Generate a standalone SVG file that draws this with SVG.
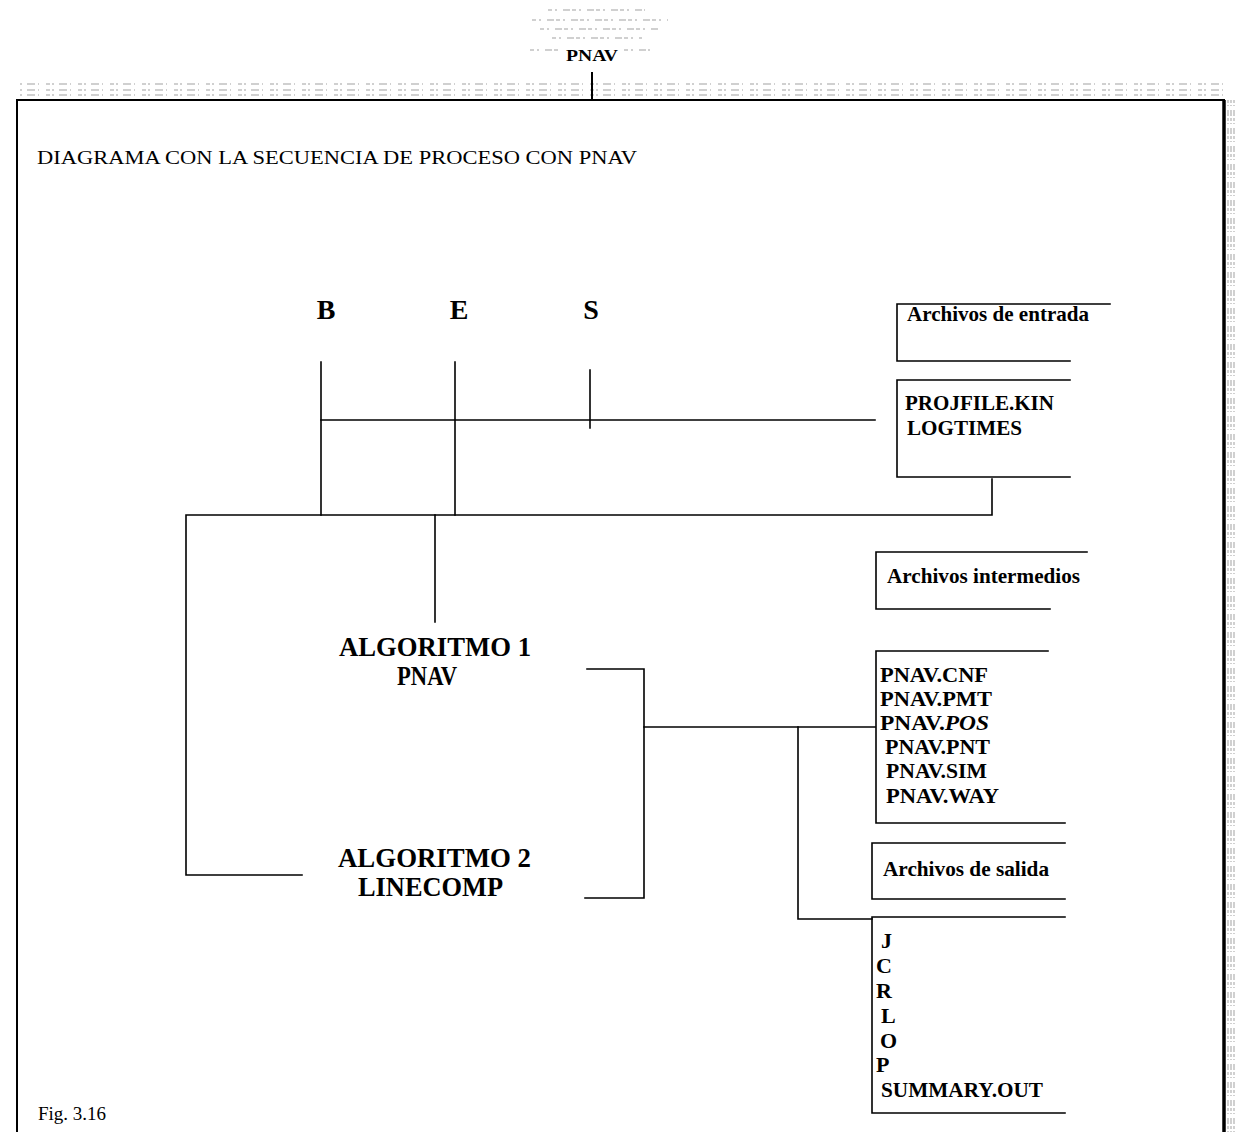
<svg xmlns="http://www.w3.org/2000/svg" width="1235" height="1132" viewBox="0 0 1235 1132">
  <style>
    .ln { stroke: #000; stroke-width: 1.6; fill: none; stroke-linecap: square; }
    .frame { stroke: #000; stroke-width: 2; fill: none; }
    .noise { stroke: #444; stroke-width: 1; fill: none; opacity: 0.5; }
    .t { font-family: "Liberation Serif", "Times New Roman", serif; fill: #000; }
    .b { font-weight: bold; }
    .box { font-size: 22px; font-weight: bold; }
    .big { font-size: 27px; font-weight: bold; }
    .letter { font-size: 28px; font-weight: bold; }
  </style>

  <rect width="1235" height="1132" fill="#fff"/>

  <!-- page header -->
  <g id="header">
    <path class="noise" stroke-dasharray="4 3 2 6 7 2" d="M548 10 H645 M532 20 H668 M540 29 H658 M552 38 H642 M530 50 H560 M624 50 H650"/>
    <text class="t b" x="566" y="61" font-size="16" textLength="52" lengthAdjust="spacingAndGlyphs">PNAV</text>
  </g>

  <!-- outer frame -->
  <g id="frame">
    <path class="noise" stroke-dasharray="2 5 8 3 1 7 4 2" d="M20 84 H1225 M20 90 H1225 M20 95 H1225"/>
    <path class="noise" stroke-dasharray="3 2 1 4 6 2" d="M1228 100 V1132 M1231 100 V1132 M1234 100 V1132"/>
    <line class="frame" x1="592" y1="72" x2="592" y2="100"/>
    <polyline class="frame" points="17,1132 17,100 1224,100 1224,1132"/>
    <line x1="1224" y1="100" x2="1224" y2="1132" stroke="#000" stroke-width="3.5"/>
  </g>

  <g id="title">
    <text class="t" x="37" y="164" font-size="19" textLength="600" lengthAdjust="spacingAndGlyphs">DIAGRAMA CON LA SECUENCIA DE PROCESO CON PNAV</text>
  </g>

  <g id="labels-bes">
    <text class="t letter" x="326" y="319" text-anchor="middle">B</text>
    <text class="t letter" x="459" y="319" text-anchor="middle">E</text>
    <text class="t letter" x="591" y="319" text-anchor="middle">S</text>
  </g>

  <!-- input file boxes (open on the right) -->
  <g id="entrada-title">
    <polyline class="ln" points="1110,304 897,304 897,361 1070,361"/>
    <text class="t box" x="907" y="321" textLength="182" lengthAdjust="spacingAndGlyphs">Archivos de entrada</text>
  </g>
  <g id="entrada-files">
    <polyline class="ln" points="1070,380 897,380 897,477 1070,477"/>
    <text class="t box" x="905" y="410" textLength="149" lengthAdjust="spacingAndGlyphs">PROJFILE.KIN</text>
    <text class="t box" x="907" y="435" textLength="115" lengthAdjust="spacingAndGlyphs">LOGTIMES</text>
  </g>

  <!-- intermediate file boxes -->
  <g id="intermedios-title">
    <polyline class="ln" points="1087,552 876,552 876,609 1050,609"/>
    <text class="t box" x="887" y="583" textLength="193" lengthAdjust="spacingAndGlyphs">Archivos intermedios</text>
  </g>
  <g id="intermedios-files">
    <polyline class="ln" points="1048,651 876,651 876,823 1065,823"/>
    <text class="t box" x="880" y="682" textLength="108" lengthAdjust="spacingAndGlyphs">PNAV.CNF</text>
    <text class="t box" x="880" y="706" textLength="112" lengthAdjust="spacingAndGlyphs">PNAV.PMT</text>
    <text class="t box" x="880" y="730" textLength="109" lengthAdjust="spacingAndGlyphs"><tspan>PNAV.</tspan><tspan font-style="italic">POS</tspan></text>
    <text class="t box" x="885" y="754" textLength="105" lengthAdjust="spacingAndGlyphs">PNAV.PNT</text>
    <text class="t box" x="886" y="778" textLength="101" lengthAdjust="spacingAndGlyphs">PNAV.SIM</text>
    <text class="t box" x="886" y="803" textLength="113" lengthAdjust="spacingAndGlyphs">PNAV.WAY</text>
  </g>

  <!-- output file boxes -->
  <g id="salida-title">
    <polyline class="ln" points="1065,843 872,843 872,899 1065,899"/>
    <text class="t box" x="883" y="876" textLength="166" lengthAdjust="spacingAndGlyphs">Archivos de salida</text>
  </g>
  <g id="salida-files">
    <polyline class="ln" points="1065,917 872,917 872,1113 1065,1113"/>
    <text class="t box" x="881" y="948">J</text>
    <text class="t box" x="876" y="973">C</text>
    <text class="t box" x="876" y="998">R</text>
    <text class="t box" x="881" y="1023">L</text>
    <text class="t box" x="880" y="1048">O</text>
    <text class="t box" x="876" y="1072">P</text>
    <text class="t box" x="881" y="1097" textLength="162" lengthAdjust="spacingAndGlyphs">SUMMARY.OUT</text>
  </g>

  <!-- process blocks -->
  <g id="algoritmo1">
    <text class="t big" x="339" y="656" textLength="192" lengthAdjust="spacingAndGlyphs">ALGORITMO 1</text>
    <text class="t big" x="397" y="685" textLength="60" lengthAdjust="spacingAndGlyphs">PNAV</text>
  </g>
  <g id="algoritmo2">
    <text class="t big" x="338" y="867" textLength="193" lengthAdjust="spacingAndGlyphs">ALGORITMO 2</text>
    <text class="t big" x="358" y="896" textLength="145" lengthAdjust="spacingAndGlyphs">LINECOMP</text>
  </g>

  <!-- connectors -->
  <g id="connectors">
    <line class="ln" x1="321" y1="362" x2="321" y2="515"/>
    <line class="ln" x1="455" y1="362" x2="455" y2="515"/>
    <line class="ln" x1="590" y1="370" x2="590" y2="428"/>
    <line class="ln" x1="321" y1="420" x2="875" y2="420"/>
    <polyline class="ln" points="992,479 992,515 186,515 186,875 302,875"/>
    <line class="ln" x1="435" y1="515" x2="435" y2="622"/>
    <polyline class="ln" points="587,669 644,669 644,898 585,898"/>
    <line class="ln" x1="644" y1="727" x2="875" y2="727"/>
    <polyline class="ln" points="798,727 798,919 872,919"/>
  </g>

  <g id="caption">
    <text class="t" x="38" y="1120" font-size="19">Fig. 3.16</text>
  </g>
</svg>
